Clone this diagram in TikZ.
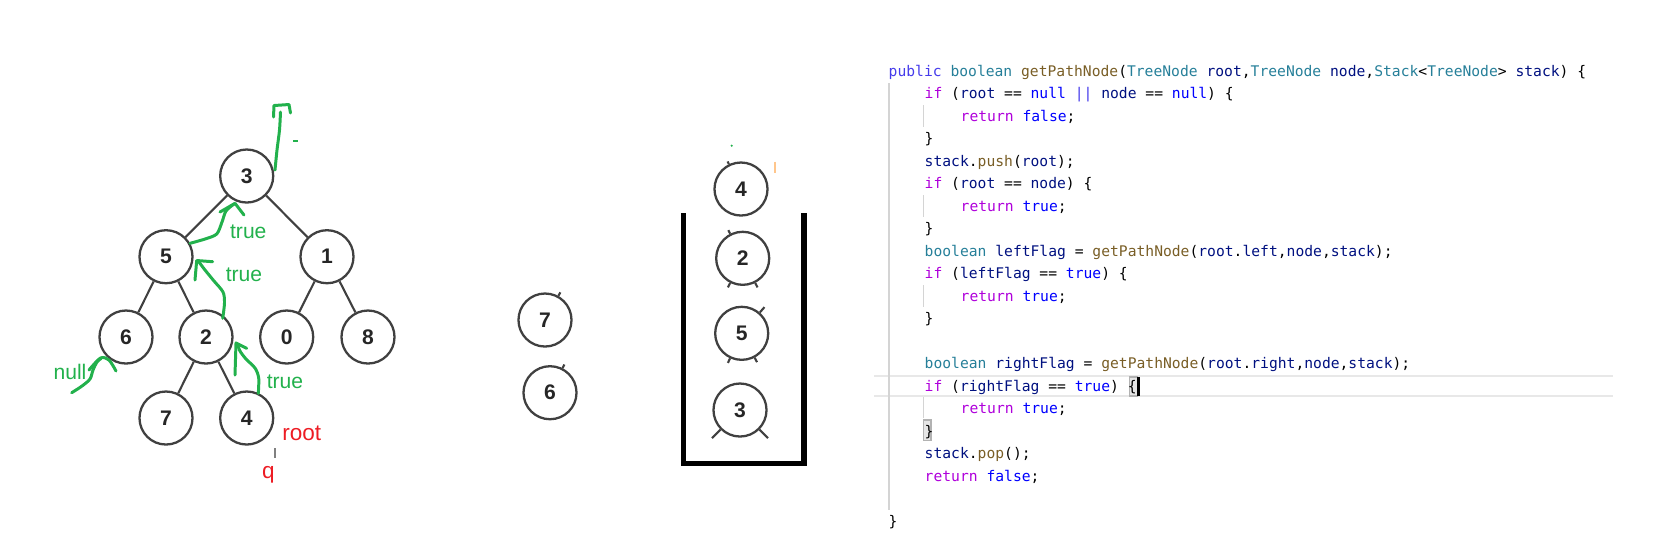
\documentclass[tikz,border=0pt]{standalone}
\usepackage{fontspec}
\setmainfont{Liberation Sans}
\newfontfamily\codefont{DejaVu Sans Mono}
\usetikzlibrary{positioning,calc}
\definecolor{nodegray}{RGB}{64,64,64}
\definecolor{markgreen}{RGB}{34,177,76}
\definecolor{markred}{RGB}{237,28,36}
\definecolor{codepub}{RGB}{70,60,235}
\definecolor{codekw}{RGB}{175,0,219}
\definecolor{codetype}{RGB}{38,127,153}
\definecolor{codeconst}{RGB}{0,0,255}
\definecolor{codefunc}{RGB}{121,94,38}
\definecolor{codeid}{RGB}{0,16,128}
\definecolor{guidegray}{RGB}{212,212,212}
\definecolor{linegray}{RGB}{232,232,232}
\newcommand{\cPub}[1]{\textcolor{codepub}{#1}}
\newcommand{\cKw}[1]{\textcolor{codekw}{#1}}
\newcommand{\cTy}[1]{\textcolor{codetype}{#1}}
\newcommand{\cCs}[1]{\textcolor{codeconst}{#1}}
\newcommand{\cFn}[1]{\textcolor{codefunc}{#1}}
\newcommand{\cId}[1]{\textcolor{codeid}{#1}}

\tikzset{
  treenode/.style={circle, draw=nodegray, line width=0.65pt, minimum size=0.53cm, inner sep=0pt,
    font=\fontsize{6pt}{7pt}\selectfont\bfseries, text=black!85},
  treeedge/.style={draw=nodegray, line width=0.6pt},
  stub/.style={draw=nodegray, line width=0.6pt},
  greenpen/.style={draw=markgreen, line width=0.85pt, line cap=round, line join=round},
  greenlabel/.style={text=markgreen, font=\fontsize{6pt}{7pt}\selectfont, inner sep=0pt},
  redlabel/.style={text=markred, font=\fontsize{6.4pt}{7.5pt}\selectfont, inner sep=0pt},
  stackwall/.style={draw=black, line width=1.5pt, line join=miter},
  codeline/.style={anchor=base west, inner sep=0pt, text=black,
    font=\codefont\fontsize{4.17pt}{5pt}\selectfont},
}

\begin{document}
\begin{tikzpicture}[x=0.01cm, y=-0.01cm]
  \useasboundingbox (0,0) rectangle (1667,556);

  % tree
  \node[treenode] (t3) at (246.7,176) {3};
  \node[treenode] (t5) at (166,256.7) {5};
  \node[treenode] (t1) at (327,256.7) {1};
  \node[treenode] (t6) at (126,337) {6};
  \node[treenode] (t2) at (206,337) {2};
  \node[treenode] (t0) at (286.7,337) {0};
  \node[treenode] (t8) at (368,337) {8};
  \node[treenode] (t7) at (166,418) {7};
  \node[treenode] (t4) at (246.7,418) {4};
  \draw[treeedge] (t3) -- (t5);
  \draw[treeedge] (t3) -- (t1);
  \draw[treeedge] (t5) -- (t6);
  \draw[treeedge] (t5) -- (t2);
  \draw[treeedge] (t1) -- (t0);
  \draw[treeedge] (t1) -- (t8);
  \draw[treeedge] (t2) -- (t7);
  \draw[treeedge] (t2) -- (t4);

  % green marks on the tree
  \draw[greenpen] plot[smooth] coordinates {(275,170) (277,150) (279.5,130) (280.5,112)};
  \draw[greenpen] (273.5,117) -- (274,105.5) -- (289,104.5) -- (290.5,113);
  \draw[markgreen, line width=0.4pt] (293,141) -- (298,141);
  \draw[greenpen] plot[smooth] coordinates {(190,243.3) (205,239) (216.7,234) (222,222) (226,211) (234,204)};
  \draw[greenpen] (220,212) -- (235,203.3) -- (244,215);
  \node[greenlabel] (lab1) at (248.3,231.7) {true};
  \draw[greenpen] plot[smooth] coordinates {(222.7,318.3) (224.5,303) (223,292) (214,281) (205,270) (199,262)};
  \draw[greenpen] (195,280) -- (196.7,260.5) -- (212.7,261.7);
  \node[greenlabel] (lab2) at (244,275) {true};
  \draw[greenpen] plot[smooth] coordinates {(258.3,393.3) (258.7,378) (255,368) (246,359) (240,351) (237.5,344)};
  \draw[greenpen] (235,375) -- (236,343) -- (246.7,348.3);
  \node[greenlabel] (lab3) at (285,381.7) {true};
  \draw[greenpen] plot[smooth] coordinates {(71.7,392.7) (82,386) (90,379) (93,370) (97,362) (101,358.5)};
  \draw[greenpen] plot[smooth] coordinates {(89,370) (100.5,358) (109,360) (116,371)};
  \node[greenlabel] (lab4) at (70,371.7) {null};

  % red marks
  \node[redlabel] (root) at (301.7,433.3) {root};
  \node[redlabel] (q) at (268.3,475) {q};
  \draw[gray, line width=0.3pt] (275,448) -- (275,458);

  % popped nodes
  \node[treenode] (p7) at (545,320) {7};
  \node[treenode] (p6) at (550,392.7) {6};
  \draw[stub] (p7.61) -- +(61:0.04cm);
  \draw[stub] (p6.63) -- +(63:0.04cm);

  % stack
  \fill[markgreen] (731.7,145.7) circle (0.012cm);
  \draw[orange!45, line width=0.3pt] (775,161.7) -- (775,172.7);
  \node[treenode] (s4) at (741,189) {4};
  \node[treenode] (s2) at (742.7,258.3) {2};
  \node[treenode] (s5) at (741.7,333.3) {5};
  \node[treenode] (s3) at (740,410) {3};
  \draw[stub] (s4.116) -- +(116:0.03cm);
  \draw[stub] (s2.117) -- +(117:0.04cm);
  \draw[stub] (s2.243) -- +(243:0.05cm);
  \draw[stub] (s2.297) -- +(297:0.05cm);
  \draw[stub] (s5.49) -- +(49:0.07cm);
  \draw[stub] (s5.245) -- +(245:0.05cm);
  \draw[stub] (s5.298) -- +(298:0.05cm);
  \draw[stub] (s3.225) -- +(225:0.12cm);
  \draw[stub] (s3.315) -- +(315:0.12cm);
  \draw[stackwall] (683.5,213) -- (683.5,463.5) -- (804,463.5) -- (804,213);

  % code editor
  \draw[linegray, line width=0.6pt] (874,375.7) -- (1613,375.7);
  \draw[linegray, line width=0.6pt] (874,396) -- (1613,396);
  \draw[guidegray, line width=0.3pt] (889,83) -- (889,510);
  \foreach \ly in {116.7,206.7,296.7,408.2}
    \draw[guidegray, line width=0.3pt] (923.3,\ly-11.5) -- (923.3,\ly+10);
  \draw[black!30, fill=black!10, line width=0.3pt] (1129.5,377) rectangle (1137.5,396);
  \draw[black!30, fill=black!10, line width=0.3pt] (923.3,420) rectangle (931,440.7);
  \draw[black, line width=0.6pt] (1138.5,377) -- (1138.5,396);

  \node[codeline] (l1) at (888,76.2) {\cPub{public} \cTy{boolean} \cFn{getPathNode}(\cTy{TreeNode} \cId{root},\cTy{TreeNode} \cId{node},\cTy{Stack}<\cTy{TreeNode}> \cId{stack}) \{};
  \node[codeline] (l2) at (924,98.7) {\cKw{if} (\cId{root} == \cCs{null} \cPub{||} \cId{node} == \cCs{null}) \{};
  \node[codeline] (l3) at (960,121.2) {\cKw{return} \cCs{false};};
  \node[codeline] (l4) at (924,143.7) {\}};
  \node[codeline] (l5) at (924,166.2) {\cId{stack}.\cFn{push}(\cId{root});};
  \node[codeline] (l6) at (924,188.7) {\cKw{if} (\cId{root} == \cId{node}) \{};
  \node[codeline] (l7) at (960,211.2) {\cKw{return} \cCs{true};};
  \node[codeline] (l8) at (924,233.7) {\}};
  \node[codeline] (l9) at (924,256.2) {\cTy{boolean} \cId{leftFlag} = \cFn{getPathNode}(\cId{root}.\cId{left},\cId{node},\cId{stack});};
  \node[codeline] (l10) at (924,278.7) {\cKw{if} (\cId{leftFlag} == \cCs{true}) \{};
  \node[codeline] (l11) at (960,301.2) {\cKw{return} \cCs{true};};
  \node[codeline] (l12) at (924,323.7) {\}};
  \node[codeline] (l14) at (924,368.7) {\cTy{boolean} \cId{rightFlag} = \cFn{getPathNode}(\cId{root}.\cId{right},\cId{node},\cId{stack});};
  \node[codeline] (l15) at (924,391.2) {\cKw{if} (\cId{rightFlag} == \cCs{true}) \{};
  \node[codeline] (l16) at (960,413.7) {\cKw{return} \cCs{true};};
  \node[codeline] (l17) at (924,436.2) {\}};
  \node[codeline] (l18) at (924,458.7) {\cId{stack}.\cFn{pop}();};
  \node[codeline] (l19) at (924,481.2) {\cKw{return} \cCs{false};};
  \node[codeline] (l21) at (888,526.2) {\}};
\end{tikzpicture}
\end{document}
